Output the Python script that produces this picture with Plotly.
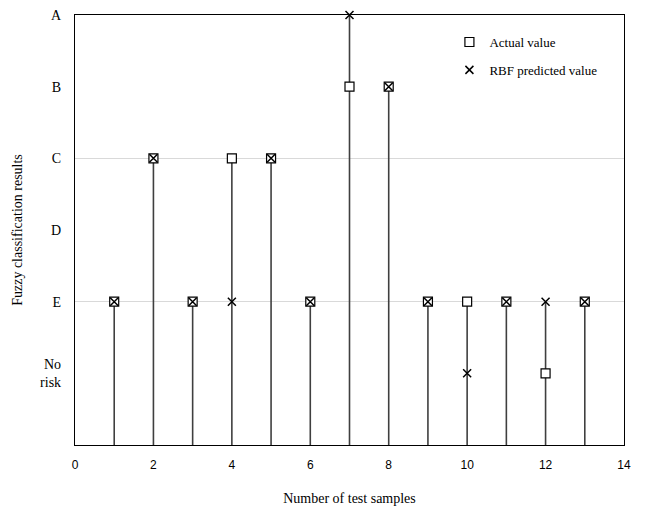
import plotly.graph_objects as go

samples = [1, 2, 3, 4, 5, 6, 7, 8, 9, 10, 11, 12, 13]
# grade levels: 6=A, 5=B, 4=C, 3=D, 2=E, 1=No risk
actual = [2, 4, 2, 4, 4, 2, 5, 5, 2, 2, 2, 1, 2]
predicted = [2, 4, 2, 2, 4, 2, 6, 5, 2, 1, 2, 2, 2]
y_tick_vals = [1, 2, 3, 4, 5, 6]
y_tick_text = ["No<br>risk", "E", "D", "C", "B", "A"]
x_tick_vals = [0, 2, 4, 6, 8, 10, 12, 14]

stem_x, stem_y = [], []
for s, a, p in zip(samples, actual, predicted):
    stem_x += [s, s, None]
    stem_y += [0, max(a, p), None]

fig = go.Figure()
fig.add_trace(go.Scatter(x=stem_x, y=stem_y, mode="lines",
                         line=dict(color="#3f3f3f", width=1.6),
                         showlegend=False, hoverinfo="skip", cliponaxis=False))
fig.add_trace(go.Scatter(x=samples, y=actual, mode="markers", name="Actual value",
                         legendgroup="a",
                         marker=dict(symbol="square", size=9, color="white",
                                     line=dict(color="black", width=1.2)),
                         cliponaxis=False))
fig.add_trace(go.Scatter(x=samples, y=predicted, mode="markers", name="RBF predicted value",
                         legendgroup="p",
                         marker=dict(symbol="x-thin-open", size=8, color="black",
                                     line=dict(color="black", width=1.5)),
                         cliponaxis=False))
# invisible trace on secondary axis for gridlines
fig.add_trace(go.Scatter(x=[0], y=[0], yaxis="y2", mode="markers",
                         marker=dict(opacity=0), showlegend=False, hoverinfo="skip"))

fig.update_layout(
    width=648, height=511,
    margin=dict(l=75, r=24, t=15, b=66),
    paper_bgcolor="white", plot_bgcolor="white",
    font=dict(family="Liberation Serif", size=13, color="black"),
    xaxis=dict(range=[0, 14], tickvals=x_tick_vals, showgrid=False, zeroline=False,
               showline=True, linecolor="black", linewidth=1.2, mirror=True,
               ticks="", ticklabelstandoff=8, automargin=False,
               tickfont=dict(family="Liberation Sans", size=12),
               title=dict(text="Number of test samples",
                          font=dict(family="Liberation Serif", size=14), standoff=22)),
    yaxis=dict(range=[0, 6], tickvals=y_tick_vals, ticktext=y_tick_text,
               showgrid=False, zeroline=False, showline=True, linecolor="black",
               linewidth=1.2, mirror=True, ticks="", ticklabelstandoff=10,
               automargin=False,
               tickfont=dict(family="Liberation Serif", size=14),
               title=dict(text="Fuzzy classification results",
                          font=dict(family="Liberation Serif", size=14), standoff=14)),
    yaxis2=dict(range=[0, 6], overlaying="y", tickvals=[2, 4], showgrid=True,
                gridcolor="#d9d9d9", gridwidth=1, showticklabels=False,
                zeroline=False, showline=False, layer="below traces", automargin=False),
    legend=dict(x=0.682, y=0.972, xanchor="left", yanchor="top",
                bgcolor="rgba(0,0,0,0)", font=dict(family="Liberation Serif", size=13),
                itemwidth=30, tracegroupgap=8),
    showlegend=True,
)

fig.write_html("out.html")
